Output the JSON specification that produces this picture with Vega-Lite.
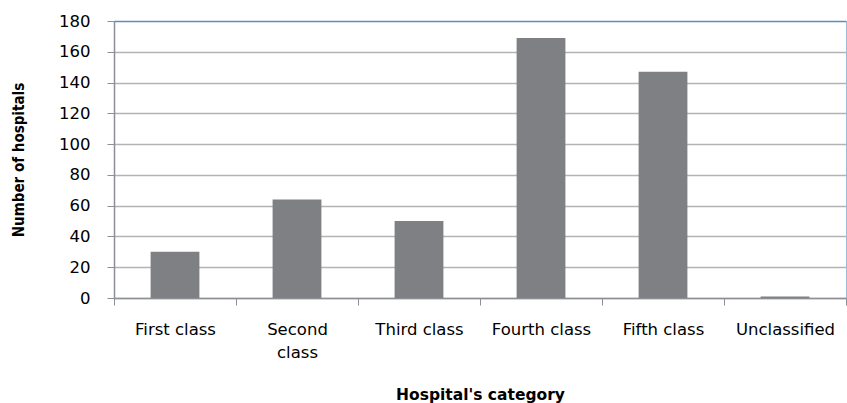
{
  "$schema": "https://vega.github.io/schema/vega-lite/v6.json",
  "width": 732,
  "height": 277,
  "autosize": {"type": "none"},
  "padding": {"left": 114, "top": 21, "right": 1, "bottom": 105},
  "background": "white",
  "config": {
    "view": {"stroke": "#9dbad9", "strokeWidth": 1},
    "font": "DejaVu Sans"
  },
  "data": {
    "values": [
      {"category": "First class", "hospitals": 30},
      {"category": "Second class", "hospitals": 64},
      {"category": "Third class", "hospitals": 50},
      {"category": "Fourth class", "hospitals": 169},
      {"category": "Fifth class", "hospitals": 147},
      {"category": "Unclassified", "hospitals": 1}
    ]
  },
  "mark": {"type": "bar", "color": "#7f8084", "width": {"band": 0.4}},
  "encoding": {
    "x": {
      "field": "category",
      "type": "nominal",
      "sort": null,
      "scale": {"paddingInner": 0, "paddingOuter": 0},
      "axis": {
        "title": "Hospital's category",
        "titleFont": "DejaVu Sans",
        "titleFontSize": 15.5,
        "titleFontWeight": "bold",
        "titleColor": "#000000",
        "titlePadding": 27,
        "labelAngle": 0,
        "labelFont": "DejaVu Sans",
        "labelFontSize": 16.5,
        "labelColor": "#000000",
        "labelPadding": 16,
        "labelLineHeight": 23,
        "labelExpr": "datum.value == 'Second class' ? ['Second', 'class'] : datum.value",
        "tickBand": "extent",
        "tickSize": 7,
        "tickColor": "#8c8f94",
        "domainColor": "#8c8f94",
        "domainWidth": 1.5,
        "grid": false
      }
    },
    "y": {
      "field": "hospitals",
      "type": "quantitative",
      "scale": {"domain": [0, 180], "nice": false},
      "axis": {
        "title": "Number of hospitals",
        "titleFont": "DejaVu Sans Condensed, Liberation Sans",
        "titleFontSize": 15,
        "titleFontWeight": "bold",
        "titleColor": "#000000",
        "titlePadding": 32,
        "values": [0, 20, 40, 60, 80, 100, 120, 140, 160, 180],
        "labelFont": "DejaVu Sans",
        "labelFontSize": 16.5,
        "labelColor": "#000000",
        "labelPadding": 17,
        "tickSize": 7,
        "tickColor": "#8c8f94",
        "domainColor": "#8c8f94",
        "domainWidth": 1.5,
        "grid": true,
        "gridColor": {"condition": {"test": "datum.value == 180", "value": "#5f8bc2"}, "value": "#b3b3b3"},
        "gridWidth": 1.5
      }
    }
  }
}
